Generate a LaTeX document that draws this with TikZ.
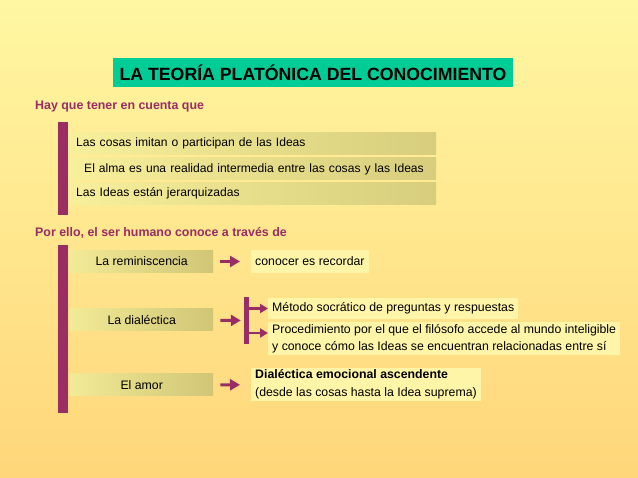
\documentclass[tikz,border=0pt]{standalone}
\usepackage{fontspec}
\setmainfont{Liberation Sans}
\usepackage{tikz}
\usetikzlibrary{arrows.meta,positioning}
\usepackage{xcolor}
\definecolor{plum}{RGB}{153,45,100}
\definecolor{bgtop}{RGB}{255,247,162}
\definecolor{bgbot}{RGB}{255,214,122}
\definecolor{mint}{RGB}{0,204,150}
\definecolor{olive}{RGB}{208,198,118}
\definecolor{paleolive}{RGB}{242,234,150}
\definecolor{note}{RGB}{255,245,168}

\begin{document}
\begin{tikzpicture} [
  x = 1pt, y = -1pt,
  inner sep = 0,
  every node/.style = { font = \fontsize{12.3}{17.5}\selectfont },
  titlebox/.style = { fill = mint, minimum width = 400pt, minimum height = 29pt,
    font = \bfseries\fontsize{17.7}{20}\selectfont },
  heading/.style = { anchor = west, text = plum, font = \bfseries\fontsize{12.4}{14}\selectfont },
  rowbox/.style = { anchor = west, left color = paleolive!60!bgtop, right color = olive!85!bgtop,
    text width = 354pt, inner xsep = 6pt, minimum height = 22pt, align = left,
    font = \fontsize{12.1}{14}\selectfont },
  waybox/.style = { anchor = west, left color = paleolive, right color = olive,
    minimum width = 143pt, minimum height = 22pt },
  notebox/.style = { anchor = west, fill = note, inner xsep = 4pt, inner ysep = 2pt,
    align = left },
  brk/.style = { fill = plum, minimum width = 5pt, minimum height = 47pt },
  link/.style = { draw = plum, line width = 3pt, -{Triangle[length = 10pt, width = 11pt]} },
  sublink/.style = { draw = plum, line width = 2.5pt, -{Triangle[length = 8pt, width = 9pt]} }
  ]

  \shade[top color = bgtop, bottom color = bgbot] (0,0) rectangle (638,478);

  \node[titlebox] (title) at (313,72.5) {LA TEORÍA PLATÓNICA DEL CONOCIMIENTO};

  \node[heading] (hay) at (35,107) {Hay que tener en cuenta que};
  \fill[plum] (58,122) rectangle (68,215);
  \node[rowbox] (cosas) at (70,143.5) {Las cosas imitan o participan de las Ideas};
  \node[rowbox] (alma) at (70,169) {\hspace*{8pt}El alma es una realidad intermedia entre las cosas y las Ideas};
  \node[rowbox] (jerar) at (70,193.5) {Las Ideas están jerarquizadas};

  \node[heading] (por) at (35,233) {Por ello, el ser humano conoce a través de};
  \fill[plum] (58,245) rectangle (68,413);
  \node[waybox] (remi) at (70,261.5) {La reminiscencia};
  \node[waybox] (dial) at (70,320) {La dialéctica};
  \node[waybox] (amor) at (70,385) {El amor};

  \node[notebox, minimum height = 23pt] (recordar) at (251,261.5) {conocer es recordar};
  \node[brk] (split) at (246.5,320.5) {};
  \node[notebox, minimum height = 21pt] (metodo) at (268,308.5) {Método socrático de preguntas y respuestas};
  \node[notebox] (proced) at (268,338.5) {Procedimiento por el que el filósofo accede al mundo inteligible\\y conoce cómo las Ideas se encuentran relacionadas entre sí};
  \node[notebox] (emocion) at (251,384.5) {\textbf{Dialéctica emocional ascendente}\\(desde las cosas hasta la Idea suprema)};
  \coordinate (pin) at ([yshift = 5.5pt]proced.west);

  \draw[link, shorten <= 7pt, shorten >= 11pt] (remi) -- (recordar);
  \draw[link, shorten <= 7pt, shorten >= 3pt] (dial) -- (split);
  \draw[link, shorten <= 7pt, shorten >= 11pt] (amor) -- (emocion);
  \draw[sublink] (split.east |- metodo.west) -- (metodo);
  \draw[sublink] (split.east |- pin) -- (pin);
\end{tikzpicture}
\end{document}
